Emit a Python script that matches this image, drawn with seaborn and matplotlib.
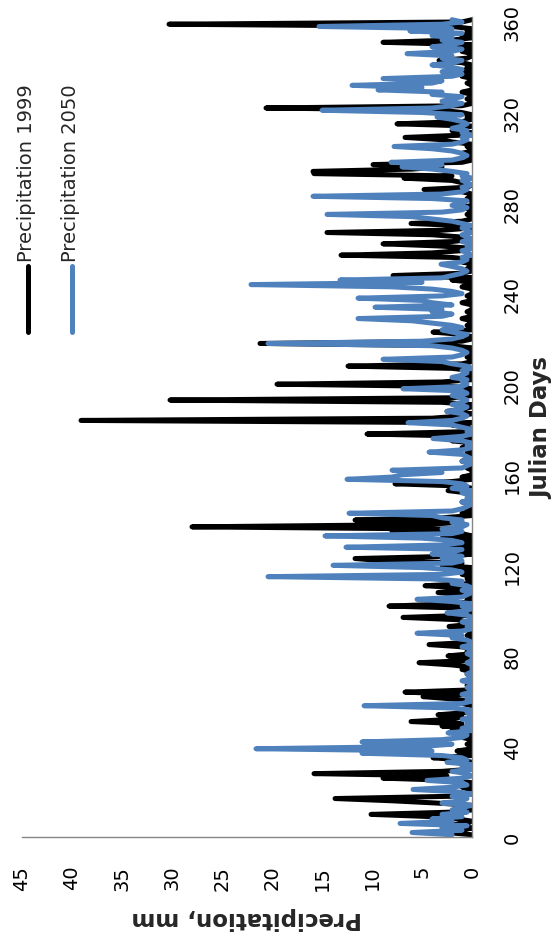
import matplotlib
matplotlib.use("Agg")
import matplotlib.pyplot as plt
from matplotlib.lines import Line2D
import pandas as pd
import seaborn as sns

sns.set_theme(style="white")
plt.rcParams['font.family'] = ['DejaVu Sans']

# daily precipitation (mm), Julian days 1..361
days = list(range(1, 362))

precip_1999 = [
    0, 2.5, 1.0, 0, 3.0, 0.5, 0, 1.5, 4.0, 10.1,
    2.0, 0, 1.0, 0, 3.5, 8.0, 13.7, 2.0, 0, 0.5,
    0, 1.0, 0, 0, 2.0, 8.9, 2.5, 15.8, 3.0, 0,
    0, 0.5, 0, 1.0, 3.9, 0, 0, 1.5, 0, 0,
    0.5, 0, 0, 1.0, 0, 0, 2.0, 0, 3.0, 1.0,
    6.1, 2.0, 1.0, 3.4, 0.5, 0, 0, 0, 1.0, 0,
    2.0, 4.9, 1.0, 6.7, 0, 0, 0.5, 0, 0, 0,
    0, 0.5, 0, 1.0, 0, 2.0, 5.3, 0, 0, 2.4,
    0, 0.5, 0, 1.0, 4.3, 0, 0, 0, 0.5, 0,
    0, 1.0, 2.3, 0, 0.5, 1.5, 6.9, 0, 0, 1.0,
    0, 8.3, 2.0, 0, 0.5, 0, 1.0, 3.4, 0, 1.0,
    4.7, 0, 0, 0.5, 0, 1.0, 0, 2.0, 0, 3.0,
    1.0, 8.8, 11.7, 2.0, 0, 1.5, 0, 4.0, 0, 1.0,
    0, 3.0, 0, 1.0, 8.0, 2.0, 28.0, 5.0, 1.0, 11.7,
    3.0, 0, 1.0, 0, 0.5, 0, 0, 1.0, 0, 0,
    0, 0.5, 2.4, 0, 1.0, 7.7, 2.0, 0, 1.0, 0,
    0, 0, 0.5, 0, 0, 1.0, 0, 0, 0, 0.5,
    0, 1.0, 0, 0, 2.0, 0, 0, 10.5, 1.0, 0,
    0.5, 2.0, 0, 39.1, 4.0, 1.0, 0, 2.5, 1.0, 0,
    0, 3.0, 30.2, 2.0, 0, 1.0, 0, 0, 2.0, 19.5,
    3.0, 0, 0, 1.0, 0, 0, 2.0, 12.4, 1.0, 0,
    0, 0.5, 0, 0, 1.0, 0, 2.0, 21.2, 1.0, 0,
    0, 1.0, 3.9, 0, 0, 0.5, 0, 0, 1.0, 0,
    0, 0.5, 0, 0, 0, 1.0, 0, 0, 0.5, 0,
    0, 0, 1.0, 0, 0, 2.0, 0, 7.9, 1.0, 0,
    0.5, 0, 0, 1.0, 0, 2.0, 13.1, 4.0, 1.0, 0,
    3.0, 8.9, 2.0, 0, 1.0, 4.0, 14.5, 3.0, 0, 1.0,
    6.1, 1.0, 0, 0, 0.5, 0, 0, 1.0, 0, 0,
    0, 0.5, 0, 0, 1.0, 4.8, 0.5, 0, 1.0, 2.0,
    6.8, 2.0, 15.8, 15.9, 6.0, 3.0, 9.9, 1.0, 0, 0.5,
    0, 1.0, 0, 0, 0.5, 0, 2.0, 3.0, 6.7, 1.0,
    0, 2.0, 1.0, 0, 7.5, 1.0, 0, 0.5, 0, 1.0,
    3.0, 20.6, 1.0, 0, 0, 0.5, 0, 0, 1.0, 0,
    0, 0, 0.5, 0, 0, 1.0, 0, 2.4, 0, 0.5,
    0, 1.0, 3.3, 0.5, 0, 0, 1.0, 0, 2.0, 0,
    8.9, 2.0, 0, 1.0, 0, 0.5, 0, 2.0, 30.3, 1.0,
    0,
]

precip_2050 = [
    2.0, 6.0, 1.0, 3.0, 0.5, 7.2, 2.0, 4.0, 1.0, 3.0,
    0.5, 2.0, 1.0, 0, 3.0, 1.0, 0.5, 2.0, 0, 1.5,
    5.9, 2.0, 0.5, 1.0, 4.5, 1.0, 0, 0.5, 2.0, 0,
    1.0, 0, 2.5, 0.5, 1.0, 3.0, 11.0, 4.0, 21.6, 5.0,
    2.0, 11.0, 3.0, 1.0, 0.5, 2.4, 0, 1.0, 0, 0.5,
    0, 1.0, 0, 0, 0.5, 0, 2.0, 10.8, 1.0, 0,
    0.5, 0, 1.0, 0, 0, 0.5, 0, 0, 1.0, 0,
    0, 0.5, 0, 0, 0, 0, 0.5, 0, 0, 0,
    0.5, 0, 0, 1.0, 0, 0, 0.5, 2.0, 1.0, 5.5,
    1.0, 0, 0.5, 0, 1.0, 0, 0, 0.5, 2.5, 0.5,
    0, 1.0, 0, 2.0, 5.5, 1.0, 0.5, 0, 1.0, 0,
    0.5, 2.0, 1.0, 4.0, 20.4, 3.0, 1.0, 2.0, 5.0, 13.9,
    2.0, 1.0, 3.0, 1.0, 4.0, 2.0, 1.0, 12.6, 3.0, 1.0,
    2.0, 5.0, 14.7, 2.0, 1.0, 3.0, 1.0, 0.5, 2.0, 1.0,
    3.0, 4.0, 12.3, 2.0, 1.0, 0.5, 0, 1.0, 0, 0.5,
    0, 1.0, 0, 2.0, 0.5, 1.0, 3.0, 12.5, 8.0, 7.0,
    3.0, 8.0, 1.0, 0.5, 0, 1.0, 0, 0.5, 1.0, 4.3,
    1.0, 0, 0.5, 0, 1.0, 3.9, 1.0, 0, 0.5, 0,
    1.0, 2.0, 6.4, 2.0, 1.0, 0.5, 1.0, 2.5, 1.0, 0.5,
    2.0, 1.0, 0.5, 1.0, 2.0, 0.5, 1.0, 6.9, 1.0, 0.5,
    1.0, 0.5, 2.0, 1.0, 0.5, 1.0, 0, 0.5, 2.0, 3.0,
    8.9, 2.0, 1.0, 0.5, 1.0, 2.0, 4.0, 20.4, 5.0, 2.0,
    1.0, 0.5, 2.0, 3.0, 1.0, 2.0, 4.0, 6.0, 11.4, 3.0,
    2.0, 4.0, 3.0, 9.7, 2.0, 4.0, 5.0, 11.4, 3.0, 1.0,
    2.0, 4.0, 8.0, 22.1, 5.0, 13.2, 3.0, 2.0, 1.0, 0.5,
    1.0, 2.0, 3.1, 1.0, 0.5, 1.0, 0, 0.5, 1.0, 0,
    0.5, 0, 1.0, 0, 0.5, 1.0, 0, 0.5, 1.0, 0,
    1.0, 2.0, 4.0, 6.0, 14.5, 3.0, 1.0, 0.5, 2.0, 1.0,
    0.5, 4.0, 15.9, 3.0, 1.0, 0.5, 1.0, 0, 0.5, 1.0,
    0, 1.0, 0.5, 2.0, 4.0, 7.0, 3.0, 8.1, 2.0, 1.0,
    0.5, 1.0, 2.0, 4.0, 7.8, 2.0, 1.0, 0.5, 1.0, 0,
    1.0, 0.5, 2.0, 1.0, 0.5, 1.0, 2.0, 3.5, 1.0, 5.0,
    15.0, 4.0, 2.0, 1.0, 3.0, 2.0, 1.0, 4.0, 3.0, 9.4,
    5.0, 12.0, 4.0, 3.0, 8.9, 2.0, 1.0, 3.0, 1.0, 2.0,
    4.0, 2.0, 1.0, 3.0, 2.0, 6.5, 2.0, 1.0, 4.0, 2.0,
    1.0, 3.0, 2.0, 4.0, 1.0, 6.2, 2.0, 15.3, 3.0, 1.0,
    2.0,
]

series_names = ['Precipitation 1999', 'Precipitation 2050']
series_colors = ['black', '#4F81BD']

df = pd.DataFrame({'Day': days,
                   series_names[0]: precip_1999,
                   series_names[1]: precip_2050})

fig = plt.figure(figsize=(5.6, 9.45), dpi=100)
ax = fig.add_axes([0.0393, 0.1132, 0.8036, 0.8673])

# chart is drawn turned on its side: days run up, precipitation runs left
for name, col in zip(series_names, series_colors):
    sns.lineplot(data=df, x=name, y='Day', sort=False, estimator=None,
                 color=col, linewidth=3.6, solid_joinstyle='round',
                 solid_capstyle='round', ax=ax)

ax.set_xlim(45, 0)
ax.set_ylim(0, 362)
ax.set_xticks(range(0, 50, 5))
ax.set_yticks(range(0, 400, 40))

ax.yaxis.tick_right()
ax.yaxis.set_label_position('right')

ax.tick_params(axis='x', labelrotation=90, direction='in', length=6, width=1,
               color='#868686', pad=20, labelsize=14, labelcolor='black')
ax.tick_params(axis='y', labelrotation=90, length=0, pad=22, labelsize=14,
               labelcolor='black')
for lab in ax.get_yticklabels():
    lab.set_va('center')

for s in ['top', 'left']:
    ax.spines[s].set_visible(False)
for s in ['bottom', 'right']:
    ax.spines[s].set_color('#868686')
    ax.spines[s].set_linewidth(1)

ax.set_xlabel('Precipitation, mm', fontsize=16.5, fontweight='bold',
              rotation=180, labelpad=12)
ax.set_ylabel('Julian Days', fontsize=16.5, fontweight='bold',
              rotation=90, labelpad=6)

# legend, turned like the rest of the chart
W, H = 560, 945
for i, (name, col) in enumerate(zip(series_names, series_colors)):
    xp = 28 + 44 * i
    fig.add_artist(Line2D([xp / W, xp / W], [(H - 333) / H, (H - 267) / H],
                          transform=fig.transFigure, color=col, linewidth=3.6,
                          solid_capstyle='round'))
    fig.text((xp - 1) / W, (H - 262) / H, name, rotation=90, fontsize=14,
             ha='center', va='bottom')

fig.savefig('out.png', dpi=100)
